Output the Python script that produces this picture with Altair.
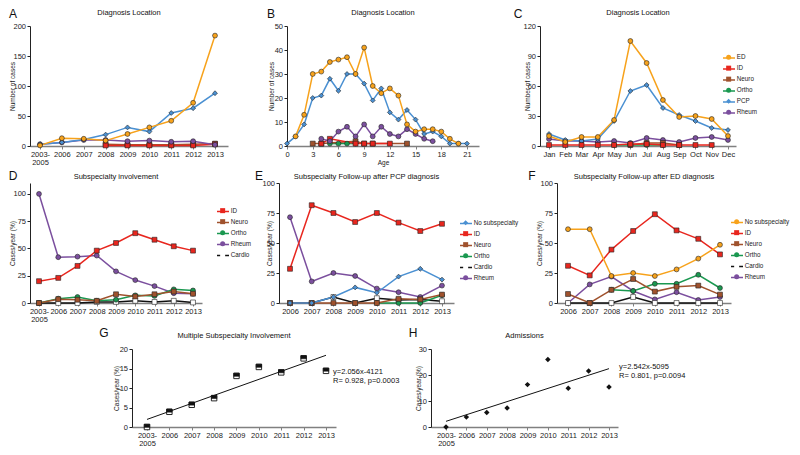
import altair as alt
import pandas as pd

FONT = 'Liberation Sans'

# ---------------- data ----------------
YEAR_IDX = [0, 1, 2, 3, 4, 5, 6, 7, 8]          # 2003-2005, 2006 ... 2013
YEARS_EF = [2006, 2007, 2008, 2009, 2010, 2011, 2012, 2013]
AGES = list(range(22))
MONTH_IDX = list(range(12))
MONTHS = ['Jan', 'Feb', 'Mar', 'Apr', 'May', 'Jun', 'Jul', 'Aug', 'Sep', 'Oct', 'Nov', 'Dec']

# A: diagnosis location by year (number of cases)
a_ed = [1, 13, 12, 9, 20, 31, 42, 72, 184]
a_pcp = [3, 6, 11, 19, 31, 24, 55, 63, 88]
a_rheum = [3, 6, 10, 10, 8, 9, 7, 8, 2]
a_id = [None, None, None, 1, 1, 1, 1, 1, 3]
a_neuro = [None, None, None, 3, 2, 2, 2, 3, 4]

# B: diagnosis location by age
b_ed = [None, 4, 13, 30, 31, 35, 36, 37, 30, 41, 25, 22, 24, 21, 9, 6, 7, 7, 6, 3, 1, None]
b_pcp = [1, 4, 9, 20, 21, 28, 23, 30, 30, 26, 19, 24, 14, 11, 15, 11, 5, 6, 4, 1, 1, 1]
b_rheum = [None, None, None, None, 3, 2, 6, 8, 4, 9, 4, 8, 5, 4, 7, 5, 3, 2, None, None, None, None]
b_id = [None, None, None, None, 1, 3, None, None, 1, 1, 1, None, 1, None, None, None, None, None, None, None, None, None]
b_neuro = [None, None, None, 1, 1, None, None, None, 2, 1, 1, None, None, None, 1, None, None, None, None, None, None, None]
b_ortho = [None, None, None, None, None, 1, 1, 1, 1, None, None, None, None, None, None, None, None, None, None, None, None, None]

# C: diagnosis location by month
c_ed = [10, 4, 9, 9, 26, 105, 83, 46, 29, 30, 27, 10]
c_id = [1, 1, 1, 1, 1, 2, 2, 1, 1, 1, 1, None]
c_neuro = [None, None, None, None, None, 1, 3, 3, 1, None, None, None]
c_ortho = [None, None, None, None, 1, 1, 1, 1, None, None, None, None]
c_pcp = [12, 6, 5, 7, 25, 55, 61, 38, 31, 25, 18, 16]
c_rheum = [7, 5, 5, 4, 5, 3, 8, 6, 4, 8, 9, 6]

# D: subspecialty involvement (%)
d_id = [20, 23, 34, 48, 55, 64, 58, 52, 48]
d_neuro = [0, 3.5, 3, 2, 8, 6, 8, 10.5, 8.5]
d_ortho = [0, 4, 5.5, 2, 3, 7, 6.5, 12.5, 11.5]
d_rheum = [100, 42, 42.5, 43.5, 29, 21, 15.5, 9, 8.5]
d_cardio = [0, 0, 0, 1, 1, 2, 1, 2, 0.5]

# E: follow-up after PCP diagnosis (%)
e_none = [0, 0, 5, 13, 8.5, 22, 28.5, 19.5]
e_id = [28.5, 81.5, 75, 67.5, 75, 67, 60, 66]
e_neuro = [0, 0, 0, 0, 0, 3.5, 3, 7]
e_ortho = [None, None, None, None, 0, 0, 0, 6.5]
e_cardio = [0, 0, 5, 0, 4, 2.5, 3, 1.5]
e_rheum = [71.5, 18, 25, 22.5, 12, 9, 5, 14.5]

# F: follow-up after ED diagnosis (%)
f_none = [61.5, 61.5, 22.5, 25, 22.5, 28, 37, 48.5]
f_id = [31, 23, 44.5, 60, 74, 60.5, 53.5, 40.5]
f_neuro = [7.5, 0, 11, 20, 9.5, 13.5, 14.5, 7]
f_ortho = [None, None, 11, 10, 16, 16, 23.5, 12.5]
f_cardio = [0, 0, 0, 5, 0, 0, 0, 0]
f_rheum = [0, 15.5, 22, 10, 3, 9, 2.5, 5]

# G, H
g_vals = [0, 3.9, 5.7, 7.4, 13.1, 15.4, 14.0, 17.6, 14.4]
h_vals = [0, 3.8, 5.6, 7.3, 16.3, 26.0, 14.9, 21.5, 15.4]
g_note = 'y=2.056x-4121\nR= 0.928, p=0.0003'
h_note = 'y=2.542x-5095\nR= 0.801, p=0.0094'

# ---------------- styles ----------------
C_ED = '#F7A21B'
C_ID = '#E8261E'
C_NEURO = '#A0522D'
C_ORTHO = '#1A9850'
C_PCP = '#4A90D2'
C_RHEUM = '#7B4F9E'

STYLE = {
    'ED': (C_ED, C_ED, 'circle'),
    'ID': (C_ID, C_ID, 'square'),
    'Neuro': (C_NEURO, C_NEURO, 'square'),
    'Ortho': (C_ORTHO, C_ORTHO, 'circle'),
    'PCP': (C_PCP, C_PCP, 'diamond'),
    'Rheum': (C_RHEUM, C_RHEUM, 'circle'),
    'Cardio': ('#111111', '#FFFFFF', 'square'),
}
STYLE_E = dict(STYLE, **{'No subspecialty': (C_PCP, C_PCP, 'diamond')})
STYLE_F = dict(STYLE, **{'No subspecialty': (C_ED, C_ED, 'circle')})

YEAR_LABELS = "datum.value == 0 ? ['2003-', '2005'] : '' + (2005 + datum.value)"
MONTH_LABELS = "['Jan','Feb','Mar','Apr','May','Jun','Jul','Aug','Sep','Oct','Nov','Dec'][datum.value]"

H1 = 120   # row 1 plot height
H2 = 120   # row 2 plot height
H3 = 78    # row 3 plot height
LW = 1.5   # line width


def text_layer(txt, dx, dy, size, **kw):
    return alt.Chart(pd.DataFrame({'t': [txt]})).mark_text(
        font=FONT, fontSize=size, align='center', baseline='middle', color='#111', **kw
    ).encode(text='t:N', x=alt.value(dx), y=alt.value(dy))


def line_panel(xs, series, styles, x_axis, x_domain, y_domain, y_ticks, y_title, y_title_x,
               width, height, title, title_dy, letter, ldx, ldy, legend_xy=None):
    rows = []
    for name, vals in reversed(series):
        for xv, yv in zip(xs, vals):
            if yv is not None:
                rows.append({'x': xv, 'y': yv, 'series': name, 'series_l': name + ' '})
    df = pd.DataFrame(rows)
    names = [n for n, _ in series]
    line_cols = [styles[n][0] for n in names]
    fills = [styles[n][1] for n in names]
    shapes = [styles[n][2] for n in names]

    X = alt.X('x:Q', scale=alt.Scale(domain=x_domain, nice=False, zero=False), axis=x_axis)
    Y = alt.Y('y:Q', scale=alt.Scale(domain=y_domain, nice=False),
              axis=alt.Axis(values=y_ticks, title=y_title, titleX=y_title_x, titleBaseline='middle'))
    if legend_xy is not None:
        lx, ly = legend_xy
        leg_line = alt.Legend(orient='none', legendX=lx, legendY=ly, title=None,
                              symbolType='M-2,0L2,0', symbolSize=36, symbolStrokeWidth=LW,
                              labelOpacity=0, zindex=0)
        leg_pt = alt.Legend(orient='none', legendX=lx + 0.5, legendY=ly, title=None,
                            symbolSize=25, symbolStrokeColor='#222', symbolStrokeWidth=0.6,
                            zindex=1)
    else:
        leg_line = None
        leg_pt = None
    lines = alt.Chart(df).mark_line(strokeWidth=LW).encode(
        x=X, y=Y,
        color=alt.Color('series_l:N', scale=alt.Scale(domain=[n + ' ' for n in names], range=line_cols),
                        legend=leg_line))
    pts = alt.Chart(df).mark_point(filled=True, size=24, opacity=1, stroke='#222', strokeWidth=0.6).encode(
        x=X, y=Y,
        fill=alt.Fill('series:N', scale=alt.Scale(domain=names, range=fills), legend=leg_pt),
        shape=alt.Shape('series:N', scale=alt.Scale(domain=names, range=shapes), legend=leg_pt))
    return alt.layer(lines, pts,
                     text_layer(title, width / 2, title_dy, 7.5),
                     text_layer(letter, ldx, ldy, 12)).properties(width=width, height=height)


def reg_panel(vals, marker_layers, x_domain, y_domain, y_ticks, y_title_x, width, height, title, letter,
              ldx, ldy, note, nx, ny):
    df = pd.DataFrame({'x': YEAR_IDX, 'y': vals})
    X = alt.X('x:Q', scale=alt.Scale(domain=x_domain, nice=False, zero=False),
              axis=alt.Axis(values=YEAR_IDX, labelExpr=YEAR_LABELS, title=None))
    Y = alt.Y('y:Q', scale=alt.Scale(domain=y_domain, nice=False),
              axis=alt.Axis(values=y_ticks, title='Cases/year (%)', titleX=y_title_x, titleBaseline='middle'))
    pts = [alt.Chart(df).mark_point(opacity=1, **m).encode(x=X, y=Y) for m in marker_layers]
    reg = alt.Chart(df).transform_regression('x', 'y', extent=[0, 8]).mark_line(
        color='#111', strokeWidth=1).encode(x=X, y=Y)
    txt = alt.Chart(pd.DataFrame({'t': [note]})).mark_text(
        font=FONT, fontSize=7.5, align='left', baseline='top', lineBreak='\n', lineHeight=9, color='#111'
    ).encode(text='t:N', x=alt.value(nx), y=alt.value(ny))
    return alt.layer(reg, *pts, txt,
                     text_layer(title, width / 2, -13, 7.5),
                     text_layer(letter, ldx, ldy, 12)).properties(width=width, height=height)


def spacer(w, h):
    return alt.Chart(pd.DataFrame({'v': [0]})).mark_point(opacity=0).encode(
        x=alt.X('v:Q', axis=None), y=alt.Y('v:Q', axis=None)).properties(width=w, height=h)


year_axis = alt.Axis(values=YEAR_IDX, labelExpr=YEAR_LABELS, title=None)

A = line_panel(YEAR_IDX, [('ED', a_ed), ('PCP', a_pcp), ('Rheum', a_rheum), ('ID', a_id), ('Neuro', a_neuro)],
               STYLE, year_axis, [-0.457, 8.594], [0, 200], [0, 50, 100, 150, 200], 'Number of cases', -18,
               198, H1, 'Diagnosis Location', -13, 'A', -17, -12)
B = line_panel(AGES, [('ED', b_ed), ('PCP', b_pcp), ('Rheum', b_rheum), ('ID', b_id), ('Neuro', b_neuro),
                      ('Ortho', b_ortho)],
               STYLE, alt.Axis(values=[0, 3, 6, 9, 12, 15, 18, 21], title='Age', titlePadding=1),
               [0, 22.4], [0, 50], [0, 10, 20, 30, 40, 50], 'Number of cases', -16,
               192, H1, 'Diagnosis Location', -13, 'B', -16, -12)
C = line_panel(MONTH_IDX, [('ED', c_ed), ('ID', c_id), ('Neuro', c_neuro), ('Ortho', c_ortho), ('PCP', c_pcp),
                           ('Rheum', c_rheum)],
               STYLE, alt.Axis(values=MONTH_IDX, labelExpr=MONTH_LABELS, title=None),
               [-0.553, 11.492], [0, 120], [0, 30, 60, 90, 120], 'Number of cases', -13,
               196, H1, 'Diagnosis Location', -13, 'C', -22, -12, legend_xy=(185, 28))

D = line_panel(YEAR_IDX, [('ID', d_id), ('Neuro', d_neuro), ('Ortho', d_ortho), ('Rheum', d_rheum),
                          ('Cardio', d_cardio)],
               STYLE, year_axis, [-0.4675, 8.467], [0, 110], [0, 25, 50, 75, 100], 'Cases/year (%)', -18,
               172, H2, 'Subspecialty involvement', -6, 'D', -17, -7, legend_xy=(189, 24.5))
E = line_panel(YEARS_EF, [('No subspecialty', e_none), ('ID', e_id), ('Neuro', e_neuro), ('Ortho', e_ortho),
                          ('Cardio', e_cardio), ('Rheum', e_rheum)],
               STYLE_E, alt.Axis(values=YEARS_EF, format='d', title=None),
               [2005.4934, 2013.553], [0, 100], [0, 25, 50, 75, 100], 'Cases/year (%)', -10,
               175, H2, 'Subspecialty Follow-up after PCP diagnosis', -6, 'E', -20, -7, legend_xy=(183, 36.5))
F = line_panel(YEARS_EF, [('No subspecialty', f_none), ('ID', f_id), ('Neuro', f_neuro), ('Ortho', f_ortho),
                          ('Cardio', f_cardio), ('Rheum', f_rheum)],
               STYLE_F, alt.Axis(values=YEARS_EF, format='d', title=None),
               [2005.4934, 2013.507], [0, 100], [0, 25, 50, 75, 100], 'Cases/year (%)', -18,
               174, H2, 'Subspecialty Follow-up after ED diagnosis', -6, 'F', -25, -7, legend_xy=(176, 35.5))

# half-filled square markers (G) and filled diamonds (H)
G_MARKERS = [
    dict(shape='square', size=30, filled=True, fill='#FFFFFF', stroke='#111', strokeWidth=0.9),
    dict(shape='M-1,-1L1,-1L1,0.15L-1,0.15Z', size=30, filled=True, fill='#111', stroke='#111', strokeWidth=0.5),
]
H_MARKERS = [dict(shape='diamond', size=30, filled=True, color='#111')]

G = reg_panel(g_vals, G_MARKERS, [-0.670, 8.447], [0, 20], [0, 5, 10, 15, 20], -16, 204, H3,
              'Multiple Subspecialty Involvement', 'G', -28, -16, g_note, 201, 19)
H = reg_panel(h_vals, H_MARKERS, [-0.736, 8.442], [0, 30], [0, 10, 20, 30], -13, 187, H3,
              'Admissions', 'H', -18, -16, h_note, 188, 14)

RES = dict(color='independent', fill='independent', shape='independent')
row1 = alt.hconcat(A, spacer(59, H1), B, spacer(61, H1), C, spacing=0, bounds='flush').resolve_scale(**RES)
row2 = alt.hconcat(D, spacer(77, H2), E, spacer(103, H2), F, spacing=0, bounds='flush').resolve_scale(**RES)
row3 = alt.hconcat(spacer(102, H3), G, spacer(95, H3), H, spacing=0, bounds='flush').resolve_scale(**RES)

chart = alt.vconcat(row1, row2, row3, spacing=4).resolve_scale(**RES).properties(
    padding={'left': 0, 'top': 0, 'right': 0, 'bottom': 0}
).configure(
    font=FONT, padding={'left': 0, 'top': 0, 'right': 0, 'bottom': 0}
).configure_view(stroke=None).configure_axis(
    grid=False, labelFont=FONT, labelFontSize=7.5, labelColor='#222', titleFont=FONT, titleFontSize=6.5,
    titleFontWeight='normal', titleColor='#222', tickSize=3, tickColor='#222', domainColor='#222',
    labelPadding=1.5, titlePadding=2, labelLineHeight=8, labelOverlap=False, labelFlush=False
).configure_axisX(domainColor='#808080', domainWidth=1.6, tickColor='#808080').configure_legend(
    labelFont=FONT, labelFontSize=6.3, labelColor='#222', padding=0, rowPadding=3, labelOffset=5
)

chart.save('out.html', embed_options={'renderer': 'svg', 'actions': False})
